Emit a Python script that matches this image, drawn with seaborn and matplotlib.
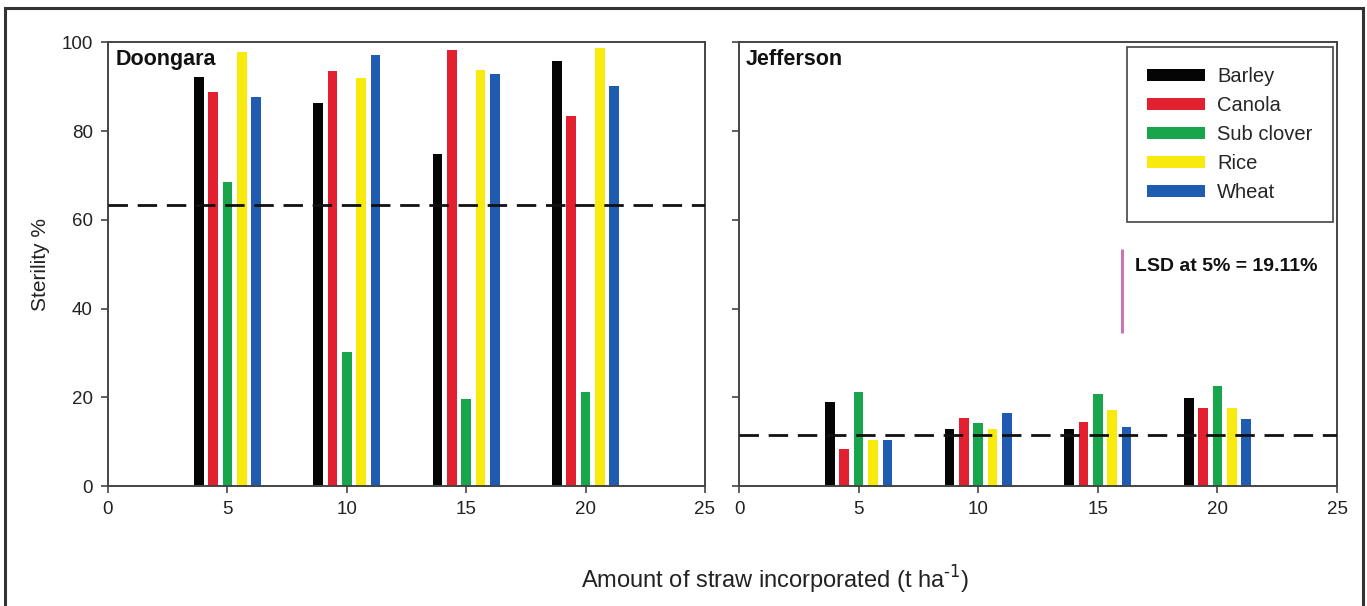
import numpy as np
import pandas as pd
import matplotlib
matplotlib.use("Agg")
import matplotlib.pyplot as plt
from matplotlib.patches import Rectangle
import seaborn as sns

# -----------------------------
# Data
# -----------------------------
straw_rates = [5, 10, 15, 20]
crops = ["Barley", "Canola", "Sub clover", "Rice", "Wheat"]

doongara_barley = [92.2, 86.3, 74.9, 95.9]
doongara_canola = [88.9, 93.5, 98.3, 83.4]
doongara_subclover = [68.5, 30.1, 19.6, 21.1]
doongara_rice = [97.8, 91.9, 93.7, 98.7]
doongara_wheat = [87.8, 97.2, 92.8, 90.1]
doongara_control = 63.4

jefferson_barley = [19.0, 12.9, 12.9, 19.9]
jefferson_canola = [8.4, 15.4, 14.5, 17.6]
jefferson_subclover = [21.1, 14.2, 20.7, 22.6]
jefferson_rice = [10.3, 12.9, 17.2, 17.6]
jefferson_wheat = [10.3, 16.4, 13.2, 15.2]
jefferson_control = 11.5

lsd_value = 19.11
lsd_x = 16
lsd_bottom = 34.4

crop_colors = {
    "Barley": "#050505",
    "Canola": "#e3202f",
    "Sub clover": "#19a54c",
    "Rice": "#f7ea0c",
    "Wheat": "#1f5bb0",
}


def long_form(series):
    rows = []
    for crop, vals in zip(crops, series):
        for rate, v in zip(straw_rates, vals):
            rows.append({"rate": rate, "crop": crop, "sterility": v})
    return pd.DataFrame(rows)


doongara_df = long_form([doongara_barley, doongara_canola, doongara_subclover,
                         doongara_rice, doongara_wheat])
jefferson_df = long_form([jefferson_barley, jefferson_canola, jefferson_subclover,
                          jefferson_rice, jefferson_wheat])

# -----------------------------
# Style
# -----------------------------
sns.set_style("ticks")
plt.rcParams["font.family"] = ["Liberation Sans", "DejaVu Sans"]
plt.rcParams["axes.edgecolor"] = "#444444"
plt.rcParams["axes.linewidth"] = 1.4
plt.rcParams["xtick.color"] = "#444444"
plt.rcParams["ytick.color"] = "#444444"
plt.rcParams["xtick.labelcolor"] = "#222222"
plt.rcParams["ytick.labelcolor"] = "#222222"

fig = plt.figure(figsize=(13.67, 6.06), dpi=100)
ax1 = fig.add_axes([0.0790, 0.198, 0.4367, 0.732])
ax2 = fig.add_axes([0.5406, 0.198, 0.4375, 0.732])


def draw_panel(ax, df, control, title, show_legend):
    sns.barplot(data=df, x="rate", y="sterility", hue="crop", hue_order=crops,
                palette=crop_colors, native_scale=True, width=0.6, gap=0.33,
                errorbar=None, saturation=1, linewidth=0, ax=ax,
                legend=show_legend)
    ax.axhline(control, color="#111111", lw=2.0, ls=(0, (7, 3.5)), zorder=3)
    ax.set_xlim(0, 25)
    ax.set_ylim(0, 100)
    ax.set_xticks(np.arange(0, 26, 5))
    ax.set_yticks(np.arange(0, 101, 20))
    ax.tick_params(direction="out", length=5, width=1.2, labelsize=13.5, pad=6)
    ax.set_xlabel("")
    ax.set_ylabel("")
    for side in ["top", "right"]:
        ax.spines[side].set_visible(True)
    ax.text(0.012, 0.985, title, transform=ax.transAxes, ha="left", va="top",
            fontsize=15.5, fontweight="bold", color="#111111")


draw_panel(ax1, doongara_df, doongara_control, "Doongara", False)
draw_panel(ax2, jefferson_df, jefferson_control, "Jefferson", True)

ax1.set_ylabel("Sterility %", fontsize=15, labelpad=8, color="#222222")
ax2.tick_params(labelleft=False)

sns.move_legend(ax2, "upper right", bbox_to_anchor=(0.993, 0.99), title=None,
                frameon=True, fancybox=False, framealpha=1, edgecolor="#444444",
                fontsize=14.5, handlelength=2.9, handleheight=0.55,
                labelspacing=0.5, borderpad=1.0, handletextpad=0.6,
                borderaxespad=0)
ax2.get_legend().get_frame().set_linewidth(1.2)

# LSD bar
ax2.plot([lsd_x, lsd_x], [lsd_bottom, lsd_bottom + lsd_value],
         color="#c877b6", lw=2.2, solid_capstyle="butt")
ax2.text(lsd_x + 0.55, lsd_bottom + lsd_value / 2 + 5.5, f"LSD at 5% = {lsd_value:.2f}%",
         ha="left", va="center", fontsize=14, fontweight="bold", color="#111111")

fig.text(0.567, 0.043, r"Amount of straw incorporated (t ha$^{\text{-1}}$)",
         ha="center", va="center", fontsize=17, color="#222222")

# outer frame
fig.patches.append(Rectangle((0.004, -0.05), 0.993, 1.037, transform=fig.transFigure,
                             fill=False, edgecolor="#333333", lw=2.2))

fig.savefig("out.png", dpi=100, facecolor="white")
